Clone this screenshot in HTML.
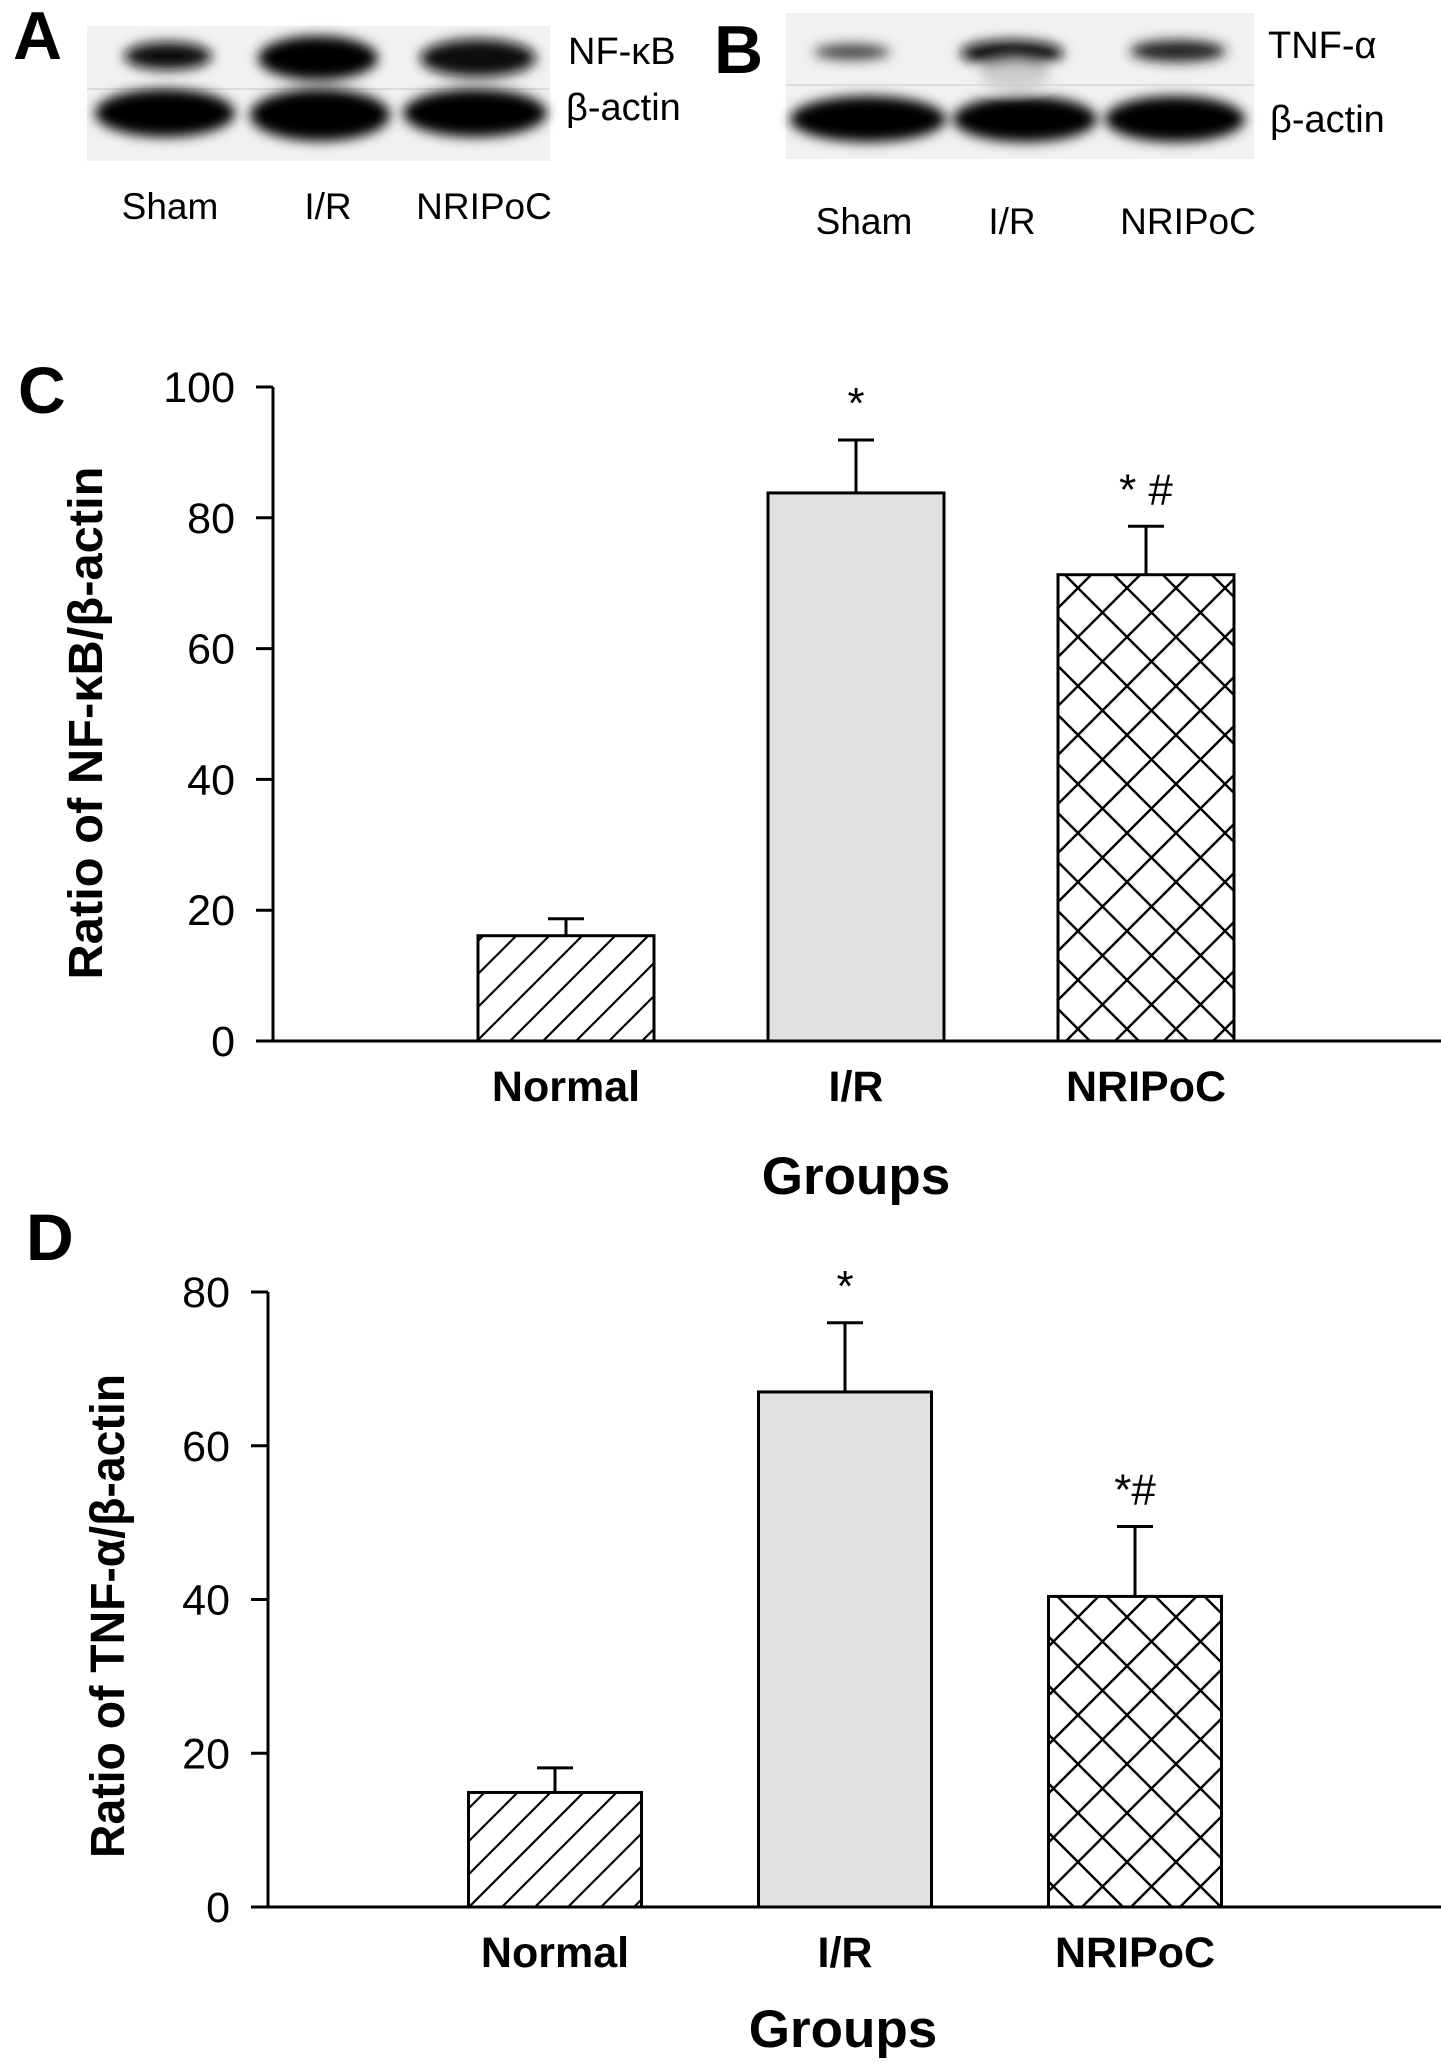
<!DOCTYPE html>
<html><head><meta charset="utf-8"><style>
html,body{margin:0;padding:0;background:#fff}
svg{display:block}
text{font-family:"Liberation Sans",Arial,sans-serif;fill:#000}
</style></head><body>
<svg id="fig" width="1441" height="2072" viewBox="0 0 1441 2072" xmlns="http://www.w3.org/2000/svg">
<defs>
<filter id="blur" x="-30%" y="-80%" width="160%" height="260%"><feGaussianBlur stdDeviation="6"/></filter>
<pattern id="diag" patternUnits="userSpaceOnUse" width="33" height="33">
<path d="M-8,41 L41,-8 M-8,8 L8,-8 M25,41 L41,25" stroke="#000" stroke-width="2.2"/>
</pattern>
<pattern id="cross" patternUnits="userSpaceOnUse" width="49" height="49">
<path d="M0,0 L49,49 M49,0 L0,49 M-10,39 L10,59 M39,-10 L59,10 M-10,10 L10,-10 M39,59 L59,39" stroke="#000" stroke-width="2.4"/>
</pattern>
</defs>

<!-- Panel A blot -->
<g>
<rect x="87" y="26" width="463" height="135" fill="#f1f1f1"/>
<line x1="87" y1="89" x2="550" y2="89" stroke="#ddd" stroke-width="2"/>
<g filter="url(#blur)">
<ellipse cx="168" cy="56" rx="44" ry="14" fill="#111"/>
<ellipse cx="318" cy="58" rx="60" ry="22" fill="#050505"/>
<ellipse cx="478" cy="58" rx="58" ry="19" fill="#0a0a0a"/>
<ellipse cx="165" cy="113" rx="70" ry="24" fill="#000"/>
<ellipse cx="320" cy="115" rx="70" ry="26" fill="#000"/>
<ellipse cx="475" cy="113" rx="72" ry="24" fill="#000"/>
</g>
</g>
<text x="13" y="59" font-size="68" font-weight="bold">A</text>
<text x="568" y="64" font-size="38">NF-κB</text>
<text x="566" y="120" font-size="38">β-actin</text>
<text x="170" y="219" font-size="37" text-anchor="middle">Sham</text>
<text x="328" y="219" font-size="37" text-anchor="middle">I/R</text>
<text x="484" y="219" font-size="37" text-anchor="middle">NRIPoC</text>

<!-- Panel B blot -->
<g>
<rect x="786" y="13" width="468" height="146" fill="#f1f1f1"/>
<line x1="786" y1="85" x2="1254" y2="85" stroke="#ddd" stroke-width="2"/>
<g filter="url(#blur)">
<ellipse cx="852" cy="52" rx="38" ry="8" fill="#444"/>
<ellipse cx="1012" cy="53" rx="52" ry="13" fill="#111"/>
<ellipse cx="1178" cy="51" rx="48" ry="11" fill="#222"/>
<ellipse cx="1015" cy="75" rx="35" ry="14" fill="#ccc"/>
<ellipse cx="868" cy="119" rx="78" ry="23" fill="#000"/>
<ellipse cx="1025" cy="119" rx="72" ry="23" fill="#000"/>
<ellipse cx="1175" cy="119" rx="70" ry="23" fill="#000"/>
</g>
</g>
<text x="714" y="73" font-size="68" font-weight="bold">B</text>
<text x="1268" y="58" font-size="38">TNF-α</text>
<text x="1270" y="132" font-size="38">β-actin</text>
<text x="864" y="234" font-size="37" text-anchor="middle">Sham</text>
<text x="1012" y="234" font-size="37" text-anchor="middle">I/R</text>
<text x="1188" y="234" font-size="37" text-anchor="middle">NRIPoC</text>

<g id="chartC"></g>
<g id="chartD"></g>
</svg>
<script>
const categories = ["Normal", "I/R", "NRIPoC"];
const nfkbValues = [16.1, 83.8, 71.3];
const nfkbErrors = [2.6, 8.1, 7.4];
const nfkbTicks = [0, 20, 40, 60, 80, 100];
const nfkbMarks = ["", "*", "* #"];
const tnfValues = [14.9, 67, 40.4];
const tnfErrors = [3.2, 9.0, 9.1];
const tnfTicks = [0, 20, 40, 60, 80];
const tnfMarks = ["", "*", "*#"];
const fills = ["url(#diag)", "#e1e1e1", "url(#cross)"];

const NS = "http://www.w3.org/2000/svg";
function mk(parent, tag, attrs, txt) {
  const e = document.createElementNS(NS, tag);
  for (const k in attrs) e.setAttribute(k, attrs[k]);
  if (txt !== undefined) e.textContent = txt;
  parent.appendChild(e);
  return e;
}

function drawChart(gid, cfg) {
  const g = document.getElementById(gid);
  const yMax = cfg.ticks[cfg.ticks.length - 1];
  const y = v => cfg.y0 - (v / yMax) * (cfg.y0 - cfg.yTop);
  const xc = i => cfg.x0 + i * cfg.step;
  const ya = mk(g, "line", {x1: cfg.ax, y1: y(yMax), x2: cfg.ax, y2: cfg.y0 + 1.5, stroke: "#000", "stroke-width": 3});
  
  
  const xa = mk(g, "line", {x1: cfg.ax - 17, y1: cfg.y0, x2: 1441, y2: cfg.y0, stroke: "#000", "stroke-width": 3});
  
  
  cfg.ticks.forEach(t => {
    const tl = mk(g, "line", {x1: cfg.ax - 17, y1: y(t), x2: cfg.ax, y2: y(t), stroke: "#000", "stroke-width": 3});
    
    
    const tx = mk(g, "text", {x: cfg.ax - 38, y: y(t) + 15, "font-size": 43, "text-anchor": "end"}, String(t));
    
    
  });
  categories.forEach((c, i) => {
    const v = cfg.values[i], e = cfg.errors[i];
    const cx = xc(i);
    const er = mk(g, "line", {x1: cx, y1: y(v), x2: cx, y2: y(v + e), stroke: "#000", "stroke-width": 3});
    
    
    const cap = mk(g, "line", {x1: cx - 18, y1: y(v + e), x2: cx + 18, y2: y(v + e), stroke: "#000", "stroke-width": 3});
    
    
    const b = mk(g, "rect", {x: cx - cfg.bw / 2, y: y(v), width: cfg.bw, height: y(0) - y(v), fill: fills[i], stroke: "#000", "stroke-width": 3});
    
    
    if (cfg.marks[i]) {
      const m = mk(g, "text", {x: cx, y: y(v + e) - cfg.markGap, "font-size": 44, "text-anchor": "middle"}, cfg.marks[i]);
      
      
    }
    const lb = mk(g, "text", {x: cx, y: cfg.y0 + 60, "font-size": 43, "font-weight": "bold", "text-anchor": "middle"}, c);
    
    
  });
  const xt = mk(g, "text", {x: cfg.groupsX, y: cfg.groupsY, "font-size": 53, "font-weight": "bold", "text-anchor": "middle"}, "Groups");
  
  
  const yt = mk(g, "text", {x: 0, y: 0, "font-size": 48, "font-weight": "bold", "text-anchor": "middle", textLength: cfg.titleLen, lengthAdjust: "spacingAndGlyphs", transform: `translate(${cfg.titleX},${cfg.titleY}) rotate(-90)`}, cfg.title);
  
  
  const pl = mk(g, "text", {x: cfg.letterX, y: cfg.letterY, "font-size": 66, "font-weight": "bold"}, cfg.letter);
  
  
}

drawChart("chartC", {values: nfkbValues, errors: nfkbErrors, ticks: nfkbTicks, marks: nfkbMarks,
  y0: 1041, yTop: 387, ax: 273, x0: 566, step: 290, bw: 176, markGap: 22,
  groupsX: 856, groupsY: 1194, title: "Ratio of NF-κB/β-actin", titleX: 102, titleY: 723, titleLen: 513,
  letter: "C", letterX: 18, letterY: 413});
drawChart("chartD", {values: tnfValues, errors: tnfErrors, ticks: tnfTicks, marks: tnfMarks,
  y0: 1907, yTop: 1292, ax: 268, x0: 555, step: 290, bw: 173, markGap: 22,
  groupsX: 843, groupsY: 2047, title: "Ratio of TNF-α/β-actin", titleX: 124, titleY: 1616, titleLen: 484,
  letter: "D", letterX: 26, letterY: 1260});
</script>
</body></html>
